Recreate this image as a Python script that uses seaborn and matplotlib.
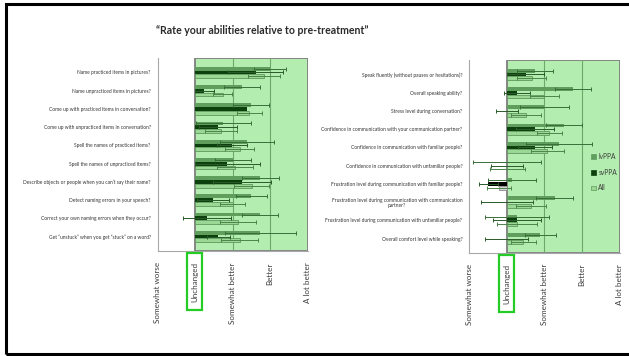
import numpy as np
import pandas as pd
import matplotlib
matplotlib.use("Agg")
import matplotlib.pyplot as plt
import seaborn as sns
from matplotlib.patches import Rectangle, Patch

sns.set_theme(style="white")
plt.rcParams["font.family"] = ["Lato", "DejaVu Sans"]

# ---- data -------------------------------------------------------------
groups = ["lvPPA", "svPPA", "All"]
scale_labels = ["Somewhat worse", "Unchanged", "Somewhat better", "Better", "A lot better"]
scale_values = [-1, 0, 1, 2, 3]

naming_questions = [
    "Name practiced items in pictures?",
    "Name unpracticed items in pictures?",
    "Come up with practiced items in conversation?",
    "Come up with unpracticed items in conversation?",
    "Spell the names of practiced items?",
    "Spell the names of unpracticed items?",
    "Describe objects or people when you can\u2019t say their name?",
    "Detect naming errors in your speech?",
    "Correct your own naming errors when they occur?",
    "Get \u201cunstuck\u201d when you get \u201cstuck\u201d on a word?",
]
naming_lv = [2.00, 1.25, 1.50, 0.75, 1.38, 1.00, 1.74, 1.50, 1.74, 1.74]
naming_lv_err = [0.43, 0.48, 0.48, 0.73, 0.72, 0.48, 0.50, 0.41, 0.48, 0.95]
naming_sv = [1.61, 0.25, 1.38, 0.62, 0.99, 0.86, 1.25, 0.48, 0.32, 0.62]
naming_sv_err = [0.73, 0.25, 0.00, 0.51, 0.40, 0.87, 0.76, 0.42, 0.63, 0.30]
naming_all = [1.83, 0.74, 1.44, 0.69, 1.19, 1.06, 1.51, 1.00, 1.14, 1.19]
naming_all_err = [0.42, 0.25, 0.33, 0.43, 0.38, 0.47, 0.46, 0.33, 0.47, 0.49]

speech_questions = [
    "Speak fluently (without pauses or hesitations)?",
    "Overall speaking ability?",
    "Stress level during conversation?",
    "Confidence in communication with your communication partner?",
    "Confidence in communication with familiar people?",
    "Confidence in communication with unfamiliar people?",
    "Frustration level during communication with familiar people?",
    "Frustration level during communication with communication\npartner?",
    "Frustration level during communication with unfamiliar people?",
    "Overall comfort level while speaking?",
]
speech_lv = [0.75, 1.76, 1.00, 1.52, 1.39, 0.00, 0.13, 1.27, 0.27, 0.89]
speech_lv_err = [0.48, 0.49, 0.65, 0.48, 0.87, 0.90, 0.64, 0.50, 0.86, 0.42]
speech_sv = [0.50, 0.27, 0.00, 0.75, 0.75, 0.00, -0.49, 0.00, 0.27, 0.00]
speech_sv_err = [0.49, 0.35, 0.30, 0.50, 0.45, 0.42, 0.25, 0.70, 0.64, 0.57]
speech_all = [0.66, 1.00, 0.50, 1.13, 1.08, 0.01, -0.20, 0.64, 0.27, 0.44]
speech_all_err = [0.38, 0.39, 0.40, 0.33, 0.45, 0.47, 0.32, 0.40, 0.54, 0.33]

# ---- styling ----------------------------------------------------------
bar_colors = {"lvPPA": "#5f9e5c", "svPPA": "#0c400c", "All": "#9bd896"}
err_colors = {"lvPPA": "#3b6f3a", "svPPA": "#2a5a2a", "All": "#4b854a"}
neg_colors = {"lvPPA": "#7a7a7a", "svPPA": "#000000", "All": "#d2d2d2"}
improve_bg = "#b3edaf"
grid_green = "#6ea76a"


def draw_panel(ax, questions, vals, errs):
    df = pd.DataFrame({
        "question": np.tile(questions, len(groups)),
        "group": np.repeat(groups, len(questions)),
        "value": np.concatenate(vals),
    })
    ax.axvspan(0, 3, facecolor=improve_bg, edgecolor="#858585", lw=1.4, zorder=0)
    for g in (1, 2):
        ax.axvline(g, color=grid_green, lw=0.8, zorder=0.5)
    sns.barplot(data=df, y="question", x="value", hue="group", order=questions,
                hue_order=groups, palette=bar_colors, orient="h", width=0.62,
                errorbar=None, saturation=1, legend=False, ax=ax, zorder=2)
    for gi, g in enumerate(groups):
        cont = ax.containers[gi]
        ys = []
        for p, v in zip(cont, vals[gi]):
            if v < 0:
                p.set_facecolor(neg_colors[g])
            if g == "All":
                p.set_edgecolor("#5f9a5c" if v >= 0 else "#8a8a8a")
                p.set_linewidth(0.6)
            else:
                p.set_linewidth(0)
            ys.append(p.get_y() + p.get_height() / 2)
        ys = np.array(ys)
        v = np.array(vals[gi])
        e = np.array(errs[gi])
        keep = e > 0
        ax.errorbar(v[keep], ys[keep], xerr=e[keep], fmt="none",
                    ecolor=err_colors[g], elinewidth=0.7, capsize=1.1,
                    capthick=0.7, zorder=3)
    ax.set_xlim(-1, 3)
    ax.set_xticks(scale_values)
    ax.set_xticklabels(scale_labels, rotation=90, fontsize=5.8, color="#3c3c3c",
                       va="top")
    ax.tick_params(axis="x", length=0, pad=8)
    ax.tick_params(axis="y", length=0, pad=5, labelsize=3.5, labelcolor="#333333")
    for lbl in ax.get_yticklabels():
        lbl.set_multialignment("center")
    ax.set_xlabel("")
    ax.set_ylabel("")
    for s in ("top", "right"):
        ax.spines[s].set_visible(False)
    for s in ("left", "bottom"):
        ax.spines[s].set_color("#a8a8a8")
        ax.spines[s].set_linewidth(0.8)


fig = plt.figure(figsize=(6.29, 3.56), dpi=100)
ax_l = fig.add_axes([0.2504, 0.2949, 0.2388, 0.5421])
ax_r = fig.add_axes([0.7461, 0.2893, 0.2390, 0.5421])

draw_panel(ax_l, naming_questions,
           [naming_lv, naming_sv, naming_all],
           [naming_lv_err, naming_sv_err, naming_all_err])
draw_panel(ax_r, speech_questions,
           [speech_lv, speech_sv, speech_all],
           [speech_lv_err, speech_sv_err, speech_all_err])

handles = [Patch(facecolor=bar_colors[g],
                 edgecolor="#5f9a5c" if g == "All" else bar_colors[g], lw=0.5,
                 label=g) for g in groups]
ax_r.legend(handles=handles, loc="upper left", bbox_to_anchor=(0.77, 0.55),
            frameon=False, fontsize=4.8, handlelength=0.7, handleheight=0.7,
            handletextpad=0.4, labelspacing=1.3, labelcolor="#3c3c3c")

fig.text(0.4165, 0.913, "\u201cRate your abilities relative to pre-treatment\u201d",
         ha="center", va="center", fontsize=7.6, fontweight="bold", color="#2a2a2a")

# highlight the "Unchanged" level on both scales
fig.canvas.draw()
renderer = fig.canvas.get_renderer()
W, H = fig.bbox.width, fig.bbox.height
for ax in (ax_l, ax_r):
    lbl = ax.get_xticklabels()[1]
    bb = lbl.get_window_extent(renderer)
    x0, y0 = bb.x0 - 4.5, bb.y0 - 8
    w, h = bb.width + 8, bb.height + 17
    fig.add_artist(Rectangle((x0 / W, y0 / H), w / W, h / H,
                             transform=fig.transFigure, fill=False,
                             edgecolor="#25cc25", lw=1.6, clip_on=False))

# slide frame
fig.add_artist(Rectangle((5.5 / W, 2 / H), 1.2, 1 - 6 / H, transform=fig.transFigure,
                         fill=False, edgecolor="black", lw=2.2, clip_on=False))

fig.savefig("out.png", dpi=100)
